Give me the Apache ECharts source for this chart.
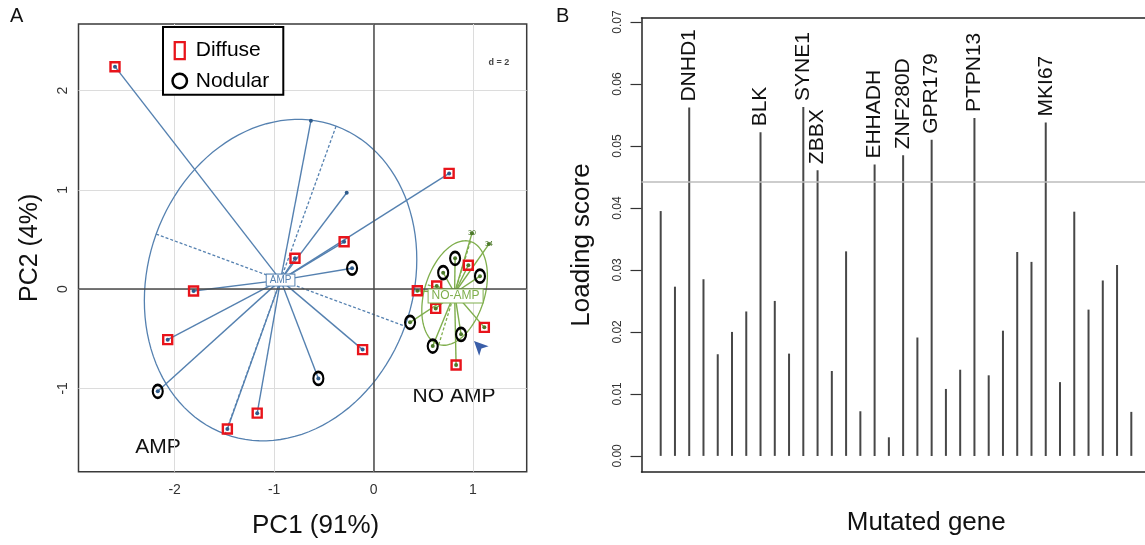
<!DOCTYPE html>
<html><head><meta charset="utf-8">
<script src="https://cdn.jsdelivr.net/npm/echarts@6/dist/echarts.min.js"></script>
<style>html,body{margin:0;padding:0;background:#fff}#c{width:1145px;height:545px}</style>
</head><body><div id="c"></div>
<script>
const FONT = 'Liberation Sans, Arial, Helvetica, sans-serif';
const BLUE = '#5581b0', BLUE_DK = '#2e5b8c', GREEN = '#7fae4c', GREEN_DK = '#4d7a2a';

// ---------- Panel A: PCA (s.class) ----------
const pcXTicks = [-2, -1, 0, 1];
const pcYTicks = [-1, 0, 1, 2];
const ampCentroid = [-0.935, 0.09];
const noAmpCentroid = [0.815, -0.04];
const ampMajor = [0.558, 1.551];
const ampMinor = [-1.251, 0.464];
const noAmpMajor = [0.159, 0.519];
const noAmpMinor = [0.289, -0.088];
const ampDiffuse = [[-2.60, 2.24], [0.76, 1.165], [-0.296, 0.476], [-0.79, 0.31], [-1.81, -0.02], [-2.07, -0.51], [-1.47, -1.41], [-1.17, -1.25], [-0.11, -0.61]];
const ampNodular = [[-0.216, 0.21], [-2.17, -1.03], [-0.555, -0.90]];
const ampOther = [[-0.63, 1.695], [-0.27, 0.97]];
const noAmpDiffuse = [[0.953, 0.24], [0.635, 0.03], [0.44, -0.017], [0.625, -0.195], [1.114, -0.386], [0.83, -0.765]];
const noAmpNodular = [[0.82, 0.31], [0.70, 0.165], [1.07, 0.13], [0.367, -0.335], [0.88, -0.456], [0.595, -0.574]];
const noAmpOther = [[0.99, 0.563], [1.16, 0.453]];
const noAmpOtherLabels = ['30', '34'];
const arrowPoint = [[1.01, -0.524]];

// ---------- Panel B: loading scores ----------
const geneScores = [0.0395, 0.0273, 0.0562, 0.0285, 0.0164, 0.0200, 0.0233, 0.0522, 0.0250, 0.0165,
  0.0563, 0.0461, 0.0137, 0.0330, 0.0072, 0.0470, 0.0030, 0.0485, 0.0191, 0.0510,
  0.0108, 0.0139, 0.0545, 0.0130, 0.0202, 0.0329, 0.0313, 0.0538, 0.0119, 0.0394,
  0.0236, 0.0283, 0.0308, 0.0071];
const geneLabels = ['', '', 'DNHD1', '', '', '', '', 'BLK', '', '',
  'SYNE1', 'ZBBX', '', '', '', 'EHHADH', '', 'ZNF280D', '', 'GPR179',
  '', '', 'PTPN13', '', '', '', '', 'MKI67', '', '',
  '', '', '', ''];
const loadTicks = [0, 0.01, 0.02, 0.03, 0.04, 0.05, 0.06, 0.07];
const threshold = 0.0442;

const ampAll = ampDiffuse.concat(ampNodular, ampOther);
const noAmpAll = noAmpDiffuse.concat(noAmpNodular, noAmpOther);

const chart = echarts.init(document.getElementById('c'), null, {renderer: 'canvas'});

function ellipseItem(params, api) {
  const cx = api.value(0), cy = api.value(1), ax = api.value(2), ay = api.value(3), bx = api.value(4), by = api.value(5);
  const color = params.dataIndex === 0 ? BLUE : GREEN;
  const pts = [];
  for (let k = 0; k <= 120; k++) {
    const t = k / 120 * 2 * Math.PI;
    pts.push(api.coord([cx + ax * Math.cos(t) + bx * Math.sin(t), cy + ay * Math.cos(t) + by * Math.sin(t)]));
  }
  const p = (s, u) => api.coord([cx + s * ax + u * bx, cy + s * ay + u * by]);
  const a1 = p(1, 0), a2 = p(-1, 0), b1 = p(0, 1), b2 = p(0, -1);
  return {type: 'group', children: [
    {type: 'polyline', shape: {points: pts}, style: {stroke: color, fill: 'none', lineWidth: 1.3}},
    {type: 'line', shape: {x1: a1[0], y1: a1[1], x2: a2[0], y2: a2[1]}, style: {stroke: color, lineWidth: 1.3, lineDash: [3, 2]}},
    {type: 'line', shape: {x1: b1[0], y1: b1[1], x2: b2[0], y2: b2[1]}, style: {stroke: color, lineWidth: 1.3, lineDash: [3, 2]}}
  ]};
}

const frameB = {show: true, onZero: false, lineStyle: {color: '#222', width: 1.5}};

const option = {
  backgroundColor: '#fff',
  animation: false,
  textStyle: {fontFamily: FONT},
  grid: [
    {left: 78.5, top: 24, right: 618.3, bottom: 73.3, show: true, borderColor: '#3a3a3a', borderWidth: 1.5, backgroundColor: 'transparent'},
    {left: 641.5, top: 18, right: 0, bottom: 73, show: false}
  ],
  legend: {
    left: 163, top: 27, orient: 'vertical', selectedMode: false,
    padding: [13, 14, 3, 6], itemGap: 9, itemWidth: 22, itemHeight: 19,
    borderColor: '#000', borderWidth: 2, backgroundColor: '#fff',
    textStyle: {fontSize: 21, color: '#000', fontFamily: FONT},
    data: [
      {name: 'Diffuse', icon: 'path://M0,0L0.01,0M12,19L12.01,19M1,1L11,1L11,18L1,18Z',
        itemStyle: {color: 'rgba(0,0,0,0)', borderColor: '#e8141b', borderWidth: 2.3, opacity: 1}},
      {name: 'Nodular', icon: 'path://M0,0L0.01,0M19,19L19.01,19M9.5,2.3A7.2,7.2 0 1,1 9.5,16.7A7.2,7.2 0 1,1 9.5,2.3Z',
        itemStyle: {color: 'rgba(0,0,0,0)', borderColor: '#000', borderWidth: 2.5, opacity: 1}}
    ]
  },
  xAxis: [
    {type: 'value', gridIndex: 0, min: -2.967, max: 1.54,
      axisLine: {show: false}, axisTick: {show: false, customValues: pcXTicks},
      axisLabel: {customValues: pcXTicks, fontSize: 14, color: '#333', margin: 11, fontFamily: FONT},
      splitLine: {show: true, lineStyle: {color: '#dcdcdc', width: 1}},
      name: 'PC1 (91%)', nameLocation: 'middle', nameGap: 41,
      nameTextStyle: {fontSize: 26, color: '#111', fontFamily: FONT, padding: [0, 0, 0, 26]}},
    {type: 'value', gridIndex: 1, min: -1.346, max: 33.96, position: 'bottom',
      axisLine: frameB, axisTick: {show: false}, axisLabel: {show: false}, splitLine: {show: false},
      name: 'Mutated gene', nameLocation: 'middle', nameGap: 38,
      nameTextStyle: {fontSize: 26, color: '#111', fontFamily: FONT, padding: [0, 0, 0, 66]}},
    {type: 'value', gridIndex: 1, min: -1.346, max: 33.96, position: 'top',
      axisLine: frameB, axisTick: {show: false}, axisLabel: {show: false}, splitLine: {show: false}}
  ],
  yAxis: [
    {type: 'value', gridIndex: 0, min: -1.84, max: 2.67,
      axisLine: {show: false}, axisTick: {show: false, customValues: pcYTicks},
      axisLabel: {customValues: pcYTicks, fontSize: 14, color: '#333', margin: 8, rotate: 90, fontFamily: FONT},
      splitLine: {show: true, lineStyle: {color: '#dcdcdc', width: 1}},
      name: 'PC2 (4%)', nameLocation: 'middle', nameGap: 36,
      nameTextStyle: {fontSize: 25, color: '#111', fontFamily: FONT}},
    {type: 'value', gridIndex: 1, min: -0.0026, max: 0.07065, position: 'left',
      axisLine: frameB,
      axisTick: {show: true, length: 11, customValues: loadTicks, lineStyle: {color: '#333', width: 1.2}},
      axisLabel: {customValues: loadTicks, rotate: 90, fontSize: 12, color: '#333', margin: 18, fontFamily: FONT,
        formatter: v => v.toFixed(2)},
      splitLine: {show: false},
      name: 'Loading score', nameLocation: 'middle', nameGap: 47,
      nameTextStyle: {fontSize: 26, color: '#111', fontFamily: FONT}}
  ],
  series: [
    {type: 'scatter', xAxisIndex: 0, yAxisIndex: 0, data: [], z: 1, silent: true,
      markLine: {silent: true, symbol: ['none', 'none'], label: {show: false},
        lineStyle: {color: '#4a4a4a', width: 1.5, type: 'solid'},
        data: [{xAxis: 0}, {yAxis: 0}]}},
    {type: 'custom', xAxisIndex: 0, yAxisIndex: 0, z: 2, silent: true, renderItem: ellipseItem,
      data: [ampCentroid.concat(ampMajor, ampMinor), noAmpCentroid.concat(noAmpMajor, noAmpMinor)]},
    {type: 'lines', coordinateSystem: 'cartesian2d', xAxisIndex: 0, yAxisIndex: 0, z: 3, silent: true,
      lineStyle: {color: BLUE, width: 1.4, opacity: 1},
      data: ampAll.map(p => ({coords: [ampCentroid, p]}))},
    {type: 'lines', coordinateSystem: 'cartesian2d', xAxisIndex: 0, yAxisIndex: 0, z: 3, silent: true,
      lineStyle: {color: GREEN, width: 1.4, opacity: 1},
      data: noAmpAll.map(p => ({coords: [noAmpCentroid, p]}))},
    {type: 'scatter', xAxisIndex: 0, yAxisIndex: 0, z: 4, silent: true, symbol: 'circle', symbolSize: 4,
      itemStyle: {color: BLUE_DK, opacity: 1}, data: ampAll},
    {type: 'scatter', xAxisIndex: 0, yAxisIndex: 0, z: 4, silent: true, symbol: 'circle', symbolSize: 4,
      itemStyle: {color: GREEN_DK, opacity: 1},
      data: noAmpAll.map((p, i) => {
        const j = i - noAmpDiffuse.length - noAmpNodular.length;
        return j >= 0 ? {value: p, label: {show: true, formatter: noAmpOtherLabels[j], position: 'inside', fontSize: 7, color: GREEN_DK}} : p;
      })},
    {name: 'Diffuse', type: 'scatter', xAxisIndex: 0, yAxisIndex: 0, z: 5, silent: true, symbol: 'rect', symbolSize: 9,
      itemStyle: {color: 'rgba(0,0,0,0)', borderColor: '#e8141b', borderWidth: 2.4, opacity: 1},
      data: ampDiffuse.concat(noAmpDiffuse)},
    {name: 'Nodular', type: 'scatter', xAxisIndex: 0, yAxisIndex: 0, z: 5, silent: true, symbol: 'circle', symbolSize: [10, 13],
      itemStyle: {color: 'rgba(0,0,0,0)', borderColor: '#000', borderWidth: 2.4, opacity: 1},
      data: ampNodular.concat(noAmpNodular)},
    {type: 'scatter', xAxisIndex: 0, yAxisIndex: 0, z: 6, silent: true, symbol: 'arrow', symbolSize: [10, 14], symbolRotate: 45,
      itemStyle: {color: '#3a5ea8', opacity: 1}, data: arrowPoint},
    {type: 'scatter', xAxisIndex: 0, yAxisIndex: 0, z: 7, silent: true, symbolSize: 1, itemStyle: {color: 'rgba(0,0,0,0)', opacity: 1},
      data: [
        {value: ampCentroid, name: 'AMP', label: {show: true, formatter: '{b}', position: 'inside', fontSize: 10, color: BLUE,
          backgroundColor: '#fff', borderColor: BLUE, borderWidth: 1, padding: [1, 3, 0, 3]}},
        {value: noAmpCentroid, name: 'NO-AMP', label: {show: true, formatter: '{b}', position: 'inside', offset: [1, 3], fontSize: 12, color: GREEN,
          backgroundColor: '#fff', borderColor: GREEN, borderWidth: 1, padding: [1, 3, 0, 3]}}
      ]},
    {type: 'bar', xAxisIndex: 1, yAxisIndex: 1, barWidth: 2, silent: true,
      itemStyle: {color: '#474747'},
      data: geneScores.map((v, i) => [i, v]),
      label: {show: true, formatter: p => geneLabels[p.dataIndex], rotate: 90, position: 'top', distance: 6,
        align: 'left', verticalAlign: 'middle', fontSize: 21, color: '#111', fontFamily: FONT},
      markLine: {silent: true, precision: 5, symbol: ['none', 'none'], label: {show: false},
        lineStyle: {color: '#bdbdbd', width: 1.5, type: 'solid'},
        data: [{yAxis: threshold}]}}
  ],
  graphic: [
    {type: 'text', left: 10, top: 6, style: {text: 'A', font: '20px ' + FONT, fill: '#111'}},
    {type: 'text', left: 556, top: 6, style: {text: 'B', font: '20px ' + FONT, fill: '#111'}},
    {type: 'text', x: 158, y: 447, style: {text: 'AMP', font: '21px ' + FONT, fill: '#111', textAlign: 'center', textVerticalAlign: 'middle'}},
    {type: 'text', x: 454, y: 396, style: {text: 'NO AMP', font: '21px ' + FONT, fill: '#111', textAlign: 'center', textVerticalAlign: 'middle'}},
    {type: 'text', x: 499, y: 63, style: {text: 'd = 2', font: 'bold 9px ' + FONT, fill: '#444', textAlign: 'center', textVerticalAlign: 'middle'}}
  ]
};
chart.setOption(option);
</script>
</body></html>
